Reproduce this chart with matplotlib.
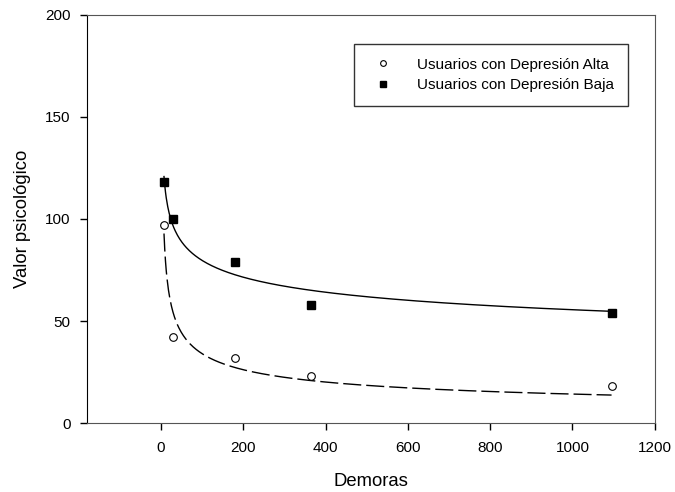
import numpy as np
import matplotlib
matplotlib.use('Agg')
import matplotlib.pyplot as plt

plt.rcParams['font.family'] = ['Liberation Sans', 'DejaVu Sans']

demoras = [7, 30, 180, 365, 1095]
alta = [97, 42, 32, 23, 18]
baja = [118, 100, 79, 58, 54]
xticks = [0, 200, 400, 600, 800, 1000, 1200]
yticks = [0, 50, 100, 150, 200]


def power_fit(x, y):
    # least squares fit of y = a * x^-b (grid search on b, a closed form)
    x = np.asarray(x, float)
    y = np.asarray(y, float)
    best = None
    for b in np.linspace(0.01, 1.5, 3000):
        f = x ** -b
        a = np.sum(y * f) / np.sum(f * f)
        err = np.sum((y - a * f) ** 2)
        if best is None or err < best[0]:
            best = (err, a, b)
    return best[1], best[2]


fig = plt.figure(figsize=(6.75, 4.92), dpi=100)
ax = fig.add_axes([0.129, 0.140, 0.841, 0.830])

xs = np.linspace(min(demoras), max(demoras), 600)
a1, b1 = power_fit(demoras, baja)
a2, b2 = power_fit(demoras, alta)
ax.plot(xs, a1 * xs ** -b1, color='black', lw=1)
ax.plot(xs, a2 * xs ** -b2, color='black', lw=1, dashes=(13, 3.6))

ax.plot(demoras, alta, 'o', mfc='white', mec='black', mew=0.8, ms=5.5,
        linestyle='none', label='Usuarios con Depresión Alta')
ax.plot(demoras, baja, 's', mfc='black', mec='black', ms=5.5,
        linestyle='none', label='Usuarios con Depresión Baja')

ax.set_xlim(-180, 1200)
ax.set_ylim(0, 200)
ax.set_xticks(xticks)
ax.set_yticks(yticks)
ax.tick_params(direction='out', length=5, width=1, labelsize=11, pad=7)
ax.tick_params(axis='x', pad=8)
for s in ['top', 'right', 'bottom']:
    ax.spines[s].set_color('#555555')
ax.spines['left'].set_color('black')

ax.set_xlabel('Demoras', fontsize=13.3, labelpad=13)
ax.set_ylabel('Valor psicológico', fontsize=13.3, labelpad=10)

leg = ax.legend(loc='upper right', bbox_to_anchor=(0.952, 0.929), borderaxespad=0,
                fontsize=11, frameon=True, fancybox=False, markerscale=0.75,
                handletextpad=1.2, borderpad=0.9, labelspacing=0.45)
leg.get_frame().set_edgecolor('black')
leg.get_frame().set_linewidth(1)

fig.savefig('out.png', dpi=100)
